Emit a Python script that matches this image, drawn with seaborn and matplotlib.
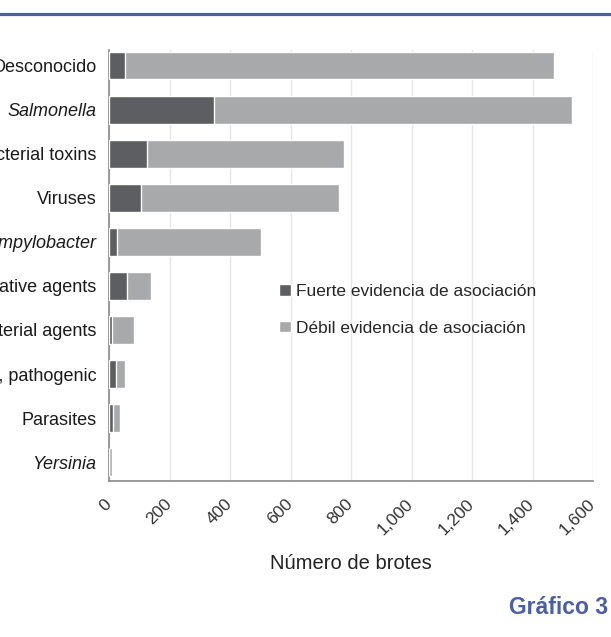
import matplotlib
matplotlib.use("Agg")
import matplotlib.pyplot as plt
import matplotlib.transforms as mtransforms
from matplotlib.lines import Line2D
from matplotlib.patches import Patch
import seaborn as sns
import pandas as pd

# Foodborne outbreaks by causative agent
agentes = [
    "Desconocido",
    "Salmonella",
    "Bacterial toxins",
    "Viruses",
    "Campylobacter",
    "Other causative agents",
    "Other bacterial agents",
    "Escherichia coli, pathogenic",
    "Parasites",
    "Yersinia",
]
fuerte = [53, 348, 127, 107, 25, 58, 11, 22, 14, 1]
total = [1472, 1529, 777, 759, 502, 138, 82, 52, 37, 10]
cursiva = ["Salmonella", "Campylobacter", "Yersinia"]
xticks = [0, 200, 400, 600, 800, 1000, 1200, 1400, 1600]
xtick_labels = ["0", "200", "400", "600", "800", "1,000", "1,200", "1,400", "1,600"]

df = pd.DataFrame({"agente": agentes, "fuerte": fuerte, "total": total})

sns.set_theme(style="white")
plt.rcParams["font.family"] = ["Liberation Sans", "DejaVu Sans"]

oscuro = "#5c5e61"
claro = "#a8a9ab"
azul = "#4a5ea8"

fig = plt.figure(figsize=(6.11, 6.37), dpi=100)
ax = fig.add_axes([109 / 611, 1 - 481 / 637, (593 - 109) / 611, (481 - 50) / 637])

sns.barplot(data=df, x="total", y="agente", order=agentes, color=claro,
            saturation=1, width=0.62, ax=ax, zorder=2)
sns.barplot(data=df, x="fuerte", y="agente", order=agentes, color=oscuro,
            saturation=1, width=0.62, ax=ax, zorder=3)

ax.set_xlim(0, 1600)
ax.set_ylim(9.43, -0.36)
ax.set_xticks(xticks)
ax.set_xticklabels(xtick_labels, rotation=45, ha="right", fontsize=12.5, color="#333333")
ax.tick_params(axis="x", length=0, pad=11)
shift = mtransforms.ScaledTranslation(5 / 100, 0, fig.dpi_scale_trans)
for lbl in ax.get_xticklabels():
    lbl.set_transform(lbl.get_transform() + shift)
ax.tick_params(axis="y", length=0, pad=9, labelsize=13, labelcolor="#1a1a1a")
for lbl in ax.get_yticklabels():
    if lbl.get_text() in cursiva:
        lbl.set_style("italic")

ax.grid(axis="x", color="#e6e6e6", linewidth=1, zorder=0)
ax.set_axisbelow(True)
for side in ["top", "right"]:
    ax.spines[side].set_visible(False)
ax.spines["left"].set_color("#8a8a8a")
ax.spines["bottom"].set_color("#8a8a8a")
ax.spines["left"].set_linewidth(1.2)
ax.spines["bottom"].set_linewidth(1.2)

ax.set_ylabel("")
ax.set_xlabel("Número de brotes", fontsize=14.5, color="#222222", labelpad=12)

handles = [Patch(facecolor=oscuro, label="Fuerte evidencia de asociación"),
           Patch(facecolor=claro, label="Débil evidencia de asociación")]
fig.legend(handles=handles, loc="upper left", bbox_to_anchor=(279 / 611, 1 - 284 / 637),
           frameon=False, fontsize=12.5, handlelength=0.7, handleheight=0.65,
           handletextpad=0.3, labelspacing=1.25, borderpad=0, borderaxespad=0)

fig.add_artist(Line2D([0, 1], [1 - 13.5 / 637, 1 - 13.5 / 637], color=azul,
                      linewidth=2.3, transform=fig.transFigure))
fig.text(608 / 611, 1 - 608 / 637, "Gráfico 3", ha="right", va="center",
         fontsize=16.5, fontweight="bold", color=azul,
         family=["Liberation Sans Narrow", "Liberation Sans", "DejaVu Sans"])

fig.savefig("out.png", dpi=100)
